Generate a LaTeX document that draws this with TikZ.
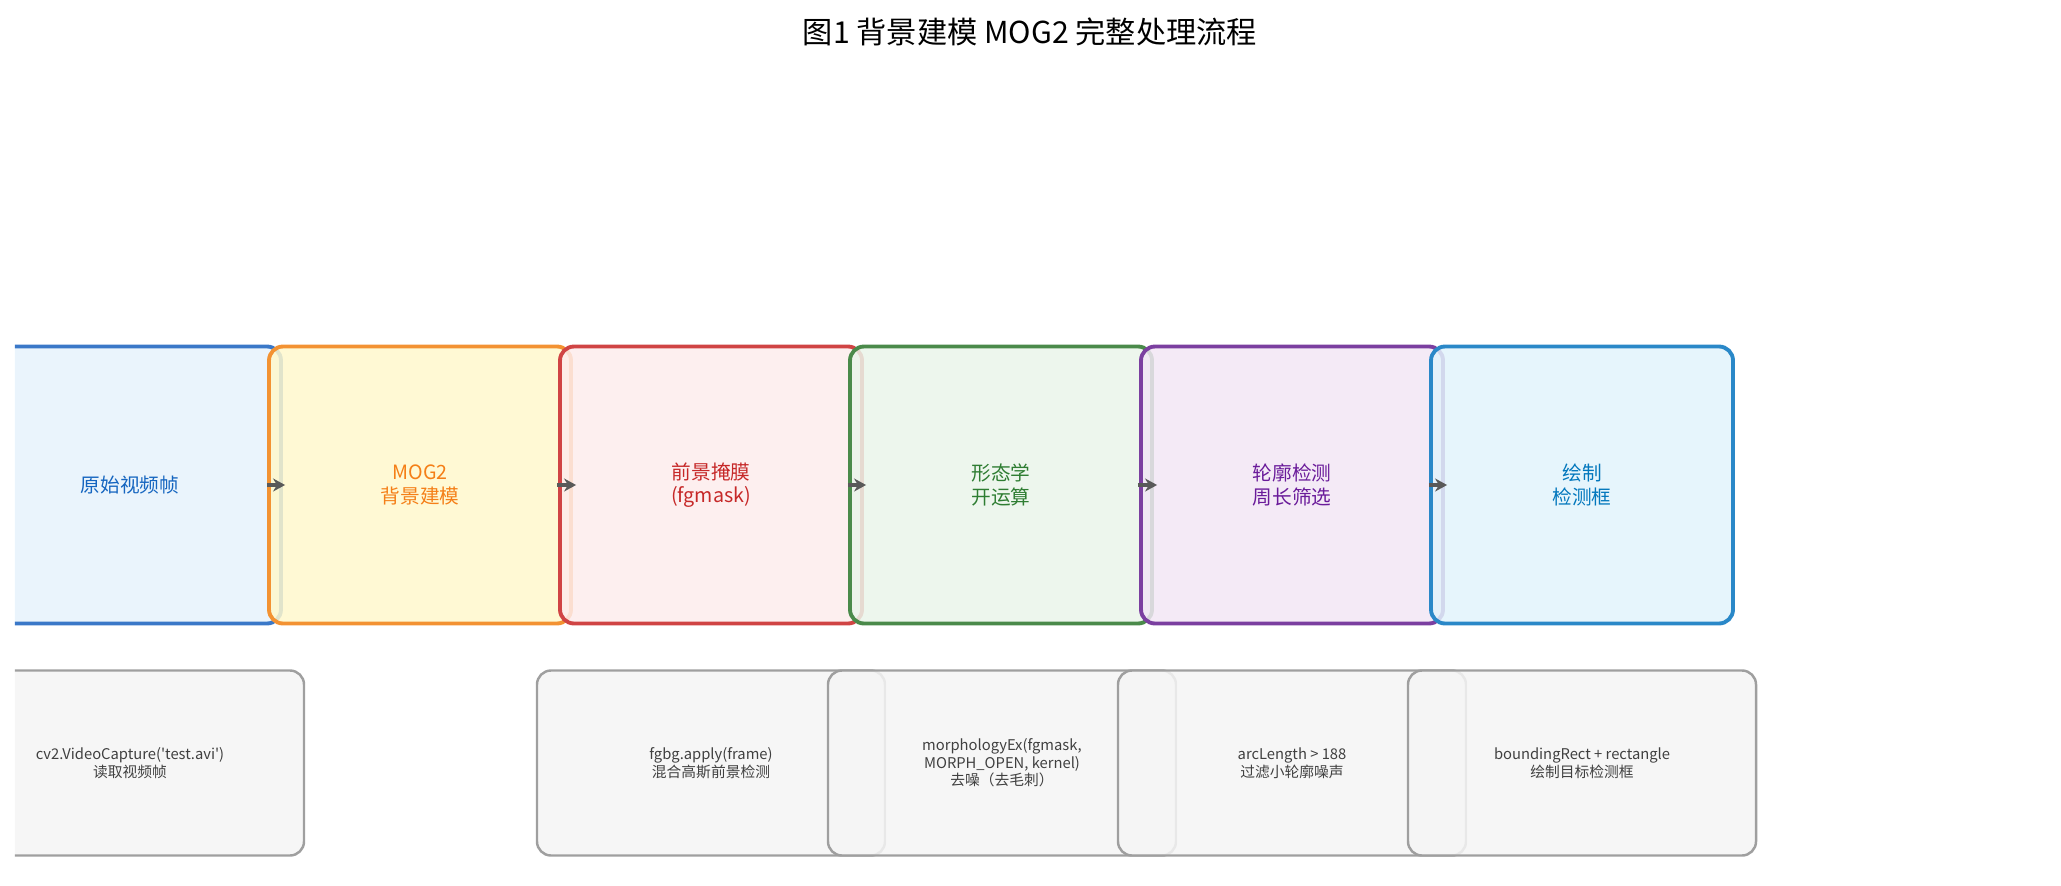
\documentclass[tikz,border=0pt]{standalone}
\usepackage{fontspec}
\newfontfamily\cj{Noto Sans CJK SC}
\usetikzlibrary{arrows.meta}
\definecolor{s1}{HTML}{3A78C8}\definecolor{f1}{HTML}{E6F2FB}\definecolor{t1}{HTML}{1565C0}
\definecolor{s2}{HTML}{F39232}\definecolor{f2}{HTML}{FFF8CC}\definecolor{t2}{HTML}{F57F17}
\definecolor{s3}{HTML}{D04444}\definecolor{f3}{HTML}{FDECEC}\definecolor{t3}{HTML}{C62828}
\definecolor{s4}{HTML}{4A8A4A}\definecolor{f4}{HTML}{EAF5EA}\definecolor{t4}{HTML}{2E7D32}
\definecolor{s5}{HTML}{7B3FA0}\definecolor{f5}{HTML}{F2E6F5}\definecolor{t5}{HTML}{6A1B9A}
\definecolor{s6}{HTML}{2A88C8}\definecolor{f6}{HTML}{E2F3FB}\definecolor{t6}{HTML}{0277BD}
\tikzset{
 stage/.style={draw=#1, line width=1.1pt, rounded corners=0.14cm, minimum width=3.02cm, minimum height=2.77cm, align=center, font=\cj\fontsize{5.6}{6.6}\selectfont, fill opacity=0.85, text opacity=1},
 note/.style={draw=gray!75, fill=gray!8, line width=0.7pt, rounded corners=0.14cm, minimum width=3.48cm, minimum height=1.85cm, align=center, font=\cj\fontsize{4.2}{5}\selectfont, text=black!75, fill opacity=0.85, text opacity=1},
 arr/.style={-{Stealth[length=0.12cm,width=0.13cm]}, line width=1.2pt, draw=black!65}
}
\begin{document}
\begin{tikzpicture}
\useasboundingbox (0,0) rectangle (20.61,8.85);
\node[font=\cj\fontsize{8.6}{10}\selectfont] (title) at (10.3,8.53) {图1 背景建模 MOG2 完整处理流程};
\begin{scope}
\clip (0.15,0) rectangle (20.61,8.85);
\node[stage=s1, fill=f1, text=t1] (b1) at (1.30,4.00) {原始视频帧};
\node[stage=s2, fill=f2, text=t2] (b2) at (4.20,4.00) {MOG2\\背景建模};
\node[stage=s3, fill=f3, text=t3] (b3) at (7.11,4.00) {前景掩膜\\(fgmask)};
\node[stage=s4, fill=f4, text=t4] (b4) at (10.01,4.00) {形态学\\开运算};
\node[stage=s5, fill=f5, text=t5] (b5) at (12.92,4.00) {轮廓检测\\周长筛选};
\node[stage=s6, fill=f6, text=t6] (b6) at (15.82,4.00) {绘制\\检测框};
\foreach \a/\b in {b1/b2,b2/b3,b3/b4,b4/b5,b5/b6}
  \draw[arr] ([xshift=-0.16cm]\a.east) -- ([xshift=0.18cm]\b.west);
\node[note] (n1) at (1.30,1.22) {cv2.VideoCapture('test.avi')\\读取视频帧};
\node[note] (n3) at (7.11,1.22) {fgbg.apply(frame)\\混合高斯前景检测};
\node[note] (n4) at (10.02,1.22) {morphologyEx(fgmask,\\ MORPH\_OPEN, kernel)\\去噪（去毛刺）};
\node[note] (n5) at (12.92,1.22) {arcLength > 188\\过滤小轮廓噪声};
\node[note] (n6) at (15.82,1.22) {boundingRect + rectangle\\绘制目标检测框};
\end{scope}
\end{tikzpicture}
\end{document}
